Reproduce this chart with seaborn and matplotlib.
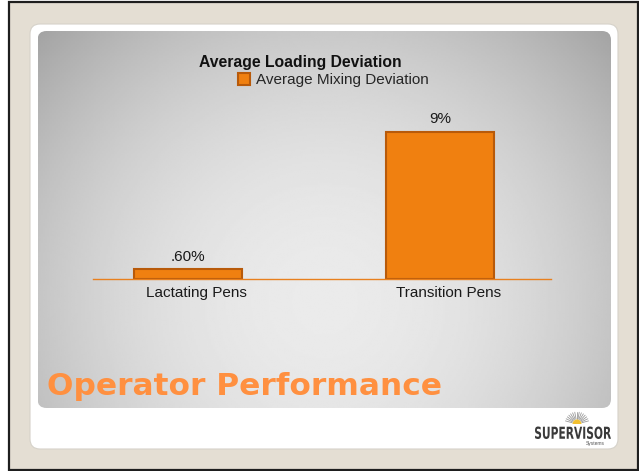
import numpy as np
import pandas as pd
import matplotlib
matplotlib.use("Agg")
import matplotlib.pyplot as plt
import seaborn as sns
from matplotlib.patches import FancyBboxPatch, Rectangle, PathPatch, Wedge
from matplotlib.textpath import TextPath
from matplotlib.font_manager import FontProperties
from matplotlib.transforms import Affine2D, ScaledTranslation

# data
categories = ["Lactating Pens", "Transition Pens"]
deviation = [0.6, 9.0]
bar_labels = [".60%", "9%"]
chart_title = "Average Loading Deviation"
series_name = "Average Mixing Deviation"
slide_title = "Operator Performance"

sns.set_theme(style="white")
plt.rcParams['font.family'] = ['Liberation Sans', 'DejaVu Sans']

W, H = 639, 471
fig = plt.figure(figsize=(W / 100, H / 100), dpi=100)
fig.patch.set_facecolor('white')

# slide background, pixel coords
bg = fig.add_axes([0, 0, 1, 1])
bg.add_patch(Rectangle((9, 2), 629, 468, facecolor='#e4ded3', edgecolor='#1e1e1e', lw=1.6))
bg.add_patch(FancyBboxPatch((30, 24), 588, 425, boxstyle="round,pad=0,rounding_size=10",
                            facecolor='white', edgecolor='#d6d2ca', lw=0.8))

# grey gradient panel
px0, px1, py0, py1 = 37.5, 611, 31, 408
u, v = np.meshgrid(np.linspace(0, 1, 300), np.linspace(0, 1, 200))
d2 = ((u - 0.5) / 0.6) ** 2 + ((v - 0.72) / 0.9) ** 2
shade = np.clip(0.92 - 0.21 * d2, 0, 1)
panel = FancyBboxPatch((px0, py0), px1 - px0, py1 - py0, boxstyle="round,pad=0,rounding_size=9",
                       facecolor='none', edgecolor='none')
bg.add_patch(panel)
im = bg.imshow(shade, cmap='gray', vmin=0, vmax=1, extent=(px0, px1, py1, py0),
               aspect='auto', interpolation='bilinear', zorder=2)
im.set_clip_path(panel)

bg.text(47, 395, slide_title, ha='left', va='baseline', fontsize=22.5, fontweight='bold',
        color='#ff9040', family='DejaVu Sans', zorder=3)

# logo
fp = FontProperties(family='Liberation Sans Narrow', weight='bold')
tp = TextPath((0, 0), "SUPERVISOR", size=10, prop=fp)
bb = tp.get_extents()
tr = Affine2D().translate(-bb.x0, -bb.y0).scale(76 / bb.width, -12.5 / bb.height).translate(535, 439)
bg.add_patch(PathPatch(tr.transform_path(tp), facecolor='#3a3a3a', edgecolor='none', zorder=3))
cx, cy = 577, 424
for a in np.linspace(15, 165, 15):
    r = np.radians(a)
    bg.plot([cx + 5 * np.cos(r), cx + 12 * np.cos(r)], [cy - 5 * np.sin(r), cy - 12 * np.sin(r)],
            color='#9a9a9a', lw=0.6, zorder=3)
bg.add_patch(Wedge((cx, cy), 4.5, 180, 360, facecolor='#f2c030', edgecolor='none', zorder=3))
bg.text(595, 444, "Systems", fontsize=3.5, color='#555555', ha='center', va='center', zorder=3)

bg.set_xlim(0, W)
bg.set_ylim(H, 0)
bg.axis('off')

# chart
ax = fig.add_axes([93 / W, 1 - 279 / H, 458 / W, 11 * 147 / 9 / H])
ax.patch.set_alpha(0)
df = pd.DataFrame({"pen": categories, "dev": deviation})
sns.barplot(data=df, x="pen", y="dev", color="#f08010", saturation=1, width=0.43,
            edgecolor="#b85a0a", linewidth=1.5, label=series_name, ax=ax)
if ax.get_legend() is not None:
    ax.get_legend().remove()
ax.set_xlim(-0.377, 1.44)
ax.set_ylim(0, 11)
ax.bar_label(ax.containers[0], labels=bar_labels, padding=4, fontsize=11, color='#1a1a1a')
for s in ['left', 'right', 'top']:
    ax.spines[s].set_visible(False)
ax.spines['bottom'].set_color('#e8801e')
ax.spines['bottom'].set_linewidth(1)
ax.set_yticks([])
ax.set_xlabel('')
ax.set_ylabel('')
ax.tick_params(axis='x', length=0, pad=5, labelsize=11, labelcolor='#1a1a1a')
for lab in ax.get_xticklabels():
    lab.set_transform(lab.get_transform() + ScaledTranslation(8 / 100, 0, fig.dpi_scale_trans))

handles, labels = ax.get_legend_handles_labels()
fig.legend(handles, labels, loc='center left', bbox_to_anchor=(238 / W, 1 - 80 / H), frameon=False,
           fontsize=11, handlelength=0.8, handleheight=0.8, handletextpad=0.4,
           borderpad=0, borderaxespad=0)
fig.text(300 / W, 1 - 62 / H, chart_title, ha='center', va='center', fontsize=11.3, fontweight='bold',
         color='#111111')

fig.savefig("out.png", dpi=100)
